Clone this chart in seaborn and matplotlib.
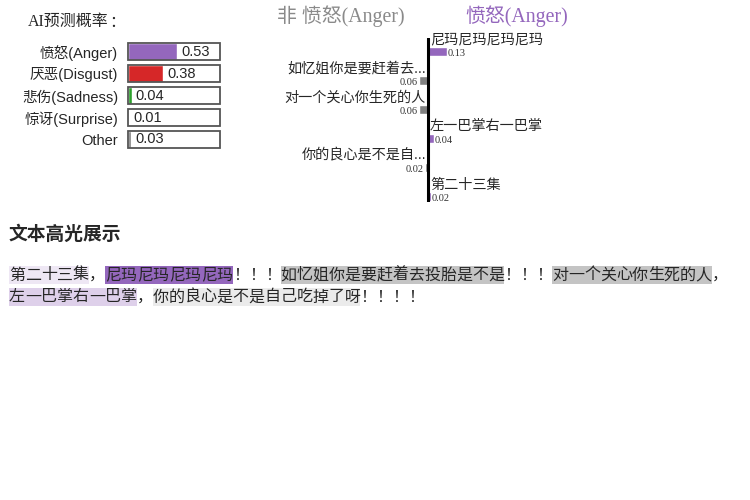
import matplotlib
matplotlib.use('Agg')
import matplotlib.pyplot as plt
from matplotlib.patches import Rectangle
import seaborn as sns
import pandas as pd

# predicted class probabilities
classes = ['愤怒(Anger)', '厌恶(Disgust)', '悲伤(Sadness)', '惊讶(Surprise)', 'Other']
probs = [0.53, 0.38, 0.04, 0.01, 0.03]
class_colors = ['#9467bd', '#d62728', '#2ca02c', '#8c564b', '#7f7f7f']

# feature weights for 愤怒(Anger)
features = ['尼玛尼玛尼玛尼玛', '如忆姐你是要赶着去...', '对一个关心你生死的人',
            '左一巴掌右一巴掌', '你的良心是不是自...', '第二十三集']
weights = [0.13, -0.06, -0.06, 0.04, -0.02, 0.02]

# highlighted text, None = not a feature
line1_text = ['第二十三集', '，', '尼玛尼玛尼玛尼玛', '！！！', '如忆姐你是要赶着去投胎是不是',
              '！！！', '对一个关心你生死的人', '，']
line1_weight = [0.02, None, 0.13, None, -0.06, None, -0.06, None]
line2_text = ['左一巴掌右一巴掌', '，', '你的良心是不是自己吃掉了呀', '！！！！']
line2_weight = [0.04, None, -0.02, None]

pos_color = '#9467bd'
neg_color = '#808080'
serif = ['Liberation Serif', 'Noto Sans CJK SC']
cjk = ['Noto Sans CJK SC', 'DejaVu Sans']

sns.set_style('white')
plt.rcParams['font.family'] = ['Liberation Sans', 'Noto Sans CJK SC']

W, H = 750, 500
fig = plt.figure(figsize=(7.5, 5), dpi=100)


def px_axes(x0, y0, x1, y1):
    return fig.add_axes([x0 / W, 1 - y1 / H, (x1 - x0) / W, (y1 - y0) / H])


# overlay in pixel coords for free text
ax_txt = fig.add_axes([0, 0, 1, 1])
ax_txt.set_xlim(0, W)
ax_txt.set_ylim(H, 0)
ax_txt.set_axis_off()

# --- probabilities ---
ax_p = px_axes(128, 40.5, 220, 150.5)
df_p = pd.DataFrame({'cls': classes, 'prob': probs})
sns.barplot(data=df_p, x='prob', y='cls', hue='cls', palette=class_colors,
            width=0.77, saturation=1, legend=False, orient='h', ax=ax_p)
for i, p in enumerate(probs):
    ax_p.add_patch(Rectangle((0, i - 0.385), 1, 0.77, fill=False,
                             edgecolor='#555555', lw=1.3, clip_on=False))
    ax_p.annotate(f'{p:.2f}', (p, i), xytext=(3, 0), textcoords='offset points',
                  va='center', ha='left', fontsize=10.5)
ax_p.set_xlim(0, 1)
ax_p.set_ylim(4.5, -0.5)
ax_p.set_xticks([])
ax_p.set_xlabel('')
ax_p.set_ylabel('')
ax_p.tick_params(axis='y', length=0, pad=7.2, labelsize=10.5)
sns.despine(ax=ax_p, left=True, bottom=True)
ax_txt.text(28, 22, 'AI预测概率', fontsize=11.5, family=serif, va='center')
ax_txt.text(117, 22, '：', fontsize=11.5, family=cjk, va='center', ha='center')

# --- feature weights ---
ax_w = px_axes(282, 38, 574, 202)
df_w = pd.DataFrame({'feature': features, 'weight': weights})
bar_colors = [pos_color if w > 0 else neg_color for w in weights]
sns.barplot(data=df_w, x='weight', y='feature', hue='feature', palette=bar_colors,
            width=0.31, saturation=1, legend=False, orient='h', ax=ax_w)
ax_w.axvline(0, color='black', lw=2.2)
ax_w.set_xlim(-1, 1)
ax_w.set_ylim(5 + 5.5 / 29, -13.5 / 29)
ax_w.set_axis_off()
dx = 2 / 146
for i, w in enumerate(weights):
    if w > 0:
        ax_w.text(dx, i - 0.414, features[i], ha='left', va='center', fontsize=10.2)
        ax_w.text(w + 1 / 146, i + 0.155, f'{abs(w):.2f}', ha='left', va='baseline',
                  fontsize=7.5, family=serif, color='#333333')
    else:
        ax_w.text(-dx, i - 0.414, features[i], ha='right', va='center', fontsize=10.2)
        ax_w.text(w - 1 / 146, i + 0.155, f'{abs(w):.2f}', ha='right', va='baseline',
                  fontsize=7.5, family=serif, color='#333333')

ax_txt.text(405, 16, '非 愤怒(Anger)', ha='right', va='center', fontsize=14.3,
            family=serif, color='#8a8a8a')
ax_txt.text(465, 16, '愤怒(Anger)', ha='left', va='center', fontsize=14.3,
            family=serif, color=pos_color)

# --- text highlight ---
ax_txt.text(9, 234, '文本高光展示', fontsize=13.5, fontweight='bold', family=cjk, va='center')

body_size = 11.5
em = body_size * 100 / 72  # every character is full width
max_w = max(abs(w) for w in weights)
y = 275
for segs, ws in ((line1_text, line1_weight), (line2_text, line2_weight)):
    x = 9
    for seg, w in zip(segs, ws):
        # one glyph per cell so side bearings do not shift anything
        for k, ch in enumerate(seg):
            ax_txt.text(x + (k + 0.5) * em, y, ch, fontsize=body_size, family=cjk,
                        va='center', ha='center', zorder=3)
        width = len(seg) * em
        if w is not None:
            ax_txt.add_patch(Rectangle((x, y - 9), width, 18,
                                       facecolor=pos_color if w > 0 else neg_color,
                                       alpha=abs(w) / max_w, edgecolor='none', zorder=2))
        x += width
    y += 22

fig.savefig('out.png', dpi=100)
